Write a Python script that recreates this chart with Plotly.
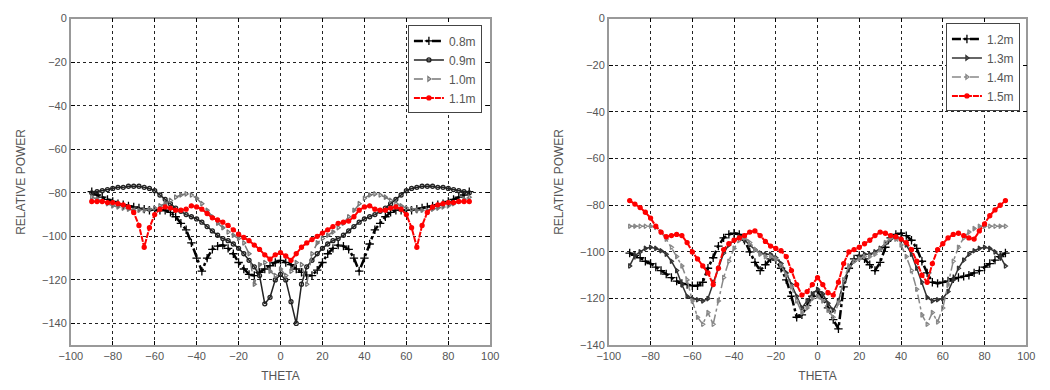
import numpy as np
import plotly.graph_objects as go

# Sample angles (degrees) shared by every measured curve
theta = np.linspace(-90, 90, 73).tolist()

# Left panel: relative power (dB) at antenna heights 0.8 m - 1.1 m
p_08 = [-79.5, -81, -82, -83, -84, -85, -85.5, -86, -86.5, -87, -87.5, -88, -88, -88, -88, -89, -91, -94, -97,
        -103, -110, -116, -110, -106, -104.5, -104, -105.5, -108, -112, -115, -117.5, -118, -116.5, -115, -113.5,
        -112, -111,
        -112, -113, -115, -116.5, -118, -118, -115.5, -112, -108, -105.5, -104, -104.5, -106, -110, -116, -110,
        -103.5, -97, -94, -91, -89, -88, -88, -88, -88, -87.5, -87, -86.5, -86, -85.5, -85, -84, -83, -82, -81, -79.5]
p_09 = [-80, -79.5, -79, -78.5, -78, -77.5, -77.5, -77, -77, -77, -77.5, -78, -79, -81, -83, -85, -87, -88.5, -90,
        -91, -92, -93.5, -95.5, -97.5, -99.5, -101, -102, -103.5, -105.5, -108, -111, -114, -118, -131, -128, -120,
        -117.5,
        -120, -130, -140, -122, -114, -111, -108, -105.5, -103.5, -102, -101, -99.5, -97.5, -95.5, -93.5, -92, -91,
        -90, -88.5, -87, -85, -83, -81, -79, -78, -77.5, -77, -77, -77, -77.5, -77.5, -78, -78.5, -79, -79.5, -80]
p_10 = [-82, -83, -84, -85, -86, -86.5, -87, -87.5, -88, -88, -88, -87.5, -87, -86, -85, -83.5, -82, -81, -80.5,
        -81, -82.5, -85, -88, -91, -94, -96, -98, -99.5, -101, -103, -108, -122, -113, -112, -116, -118, -115,
        -118, -116, -112, -113, -122, -108, -103, -101, -99.5, -98, -96, -94, -91, -88, -85, -82.5, -81, -80.5, -81,
        -82, -83.5, -85, -86, -87, -87.5, -88, -88, -88, -87.5, -87, -86.5, -86, -85, -84, -83, -82]
p_11 = [-84, -84, -84, -84.5, -84.5, -85, -85.5, -86.5, -89, -95, -105, -96, -90, -87.5, -86.5, -87, -88, -88, -87.5,
        -86, -86.5, -87.5, -89.5, -91.5, -92.5, -93.5, -95, -97, -99, -100.5, -102, -104, -106, -108.5, -110.5,
        -108.5, -107.5,
        -109, -111, -108, -105, -103, -101.5, -100, -98.5, -97, -95.5, -94, -93.5, -93, -91, -88, -86.5, -86, -87.5,
        -88, -88, -87, -86.5, -87.5, -90, -96, -105, -95, -89, -86.5, -85.5, -85, -84.5, -84.5, -84, -84, -84]

# Right panel: relative power (dB) at antenna heights 1.2 m - 1.5 m
p_12 = [-100.5, -101.5, -102.5, -104, -105, -106.5, -108, -109.5, -111, -112.5, -113.5, -114, -114.5, -114.5, -113,
        -107, -102.5, -97.5, -94, -92.5, -92, -92.5, -95, -100, -104.5, -108, -105.5, -103, -103.5, -107, -112, -119,
        -128, -127, -123, -119, -117,
        -120, -124, -129, -133, -115, -107, -103, -101.5, -103, -105.5, -108, -104.5, -98, -94, -92.5, -92, -93, -95,
        -98.5, -104, -109, -113, -113.5, -113, -112.5, -111.5, -111, -110.5, -110, -109, -108, -106.5, -105, -103.5,
        -102, -100.5]
p_13 = [-106, -101.5, -100, -98.5, -98, -98.5, -99.5, -101, -104, -108, -114, -119, -120, -120.5, -121, -120, -113,
        -107, -100.5, -97, -95, -93.5, -95, -97, -99, -100.5, -101, -101, -102.5, -105, -109, -114, -119, -124, -121,
        -118, -116,
        -118, -122, -125, -121, -113, -107, -104, -102, -101, -101, -100, -98.5, -96.5, -94.5, -93.5, -94.5, -97,
        -101, -107, -113, -119.5, -121, -120.5, -120, -117, -112, -107, -103.5, -101, -99.5, -98.5, -98, -98.5, -100,
        -102, -106]
p_14 = [-89, -89, -89, -89, -89, -89.5, -91.5, -94.5, -98, -102, -106, -112, -121, -128, -131, -126, -131, -121,
        -111, -104, -98.5, -95, -94, -96, -99, -101, -102, -102, -103, -106, -110, -115, -121, -126, -124, -120, -119,
        -121, -125, -128, -122, -112, -106, -104, -103, -102, -102, -101, -99, -96, -94, -94.5, -97, -102, -108, -116,
        -127, -131, -126, -130, -124, -114, -104, -98, -94, -91.5, -90, -89, -89, -89, -89, -89, -89]
p_15 = [-78, -79.5, -81, -83, -85.5, -89, -91.5, -93.5, -93, -92.5, -93, -96, -100, -103, -106, -109, -114, -107, -99,
        -96.5, -95, -94, -93, -91.5, -91, -93, -95.5, -97.5, -98.5, -99.5, -102, -108, -114, -118.5, -117, -114, -111,
        -114, -117.5, -118.5, -113, -105, -100, -99, -98, -96.5, -95, -93, -91.5, -92, -93, -93.5, -94.5, -96, -99,
        -104, -110, -113, -105, -99, -96.5, -94, -92.5, -92, -93, -94, -94.5, -91, -88, -84.5, -82, -80, -78]

left_labels = ["0.8m", "0.9m", "1.0m", "1.1m"]
right_labels = ["1.2m", "1.3m", "1.4m", "1.5m"]

FONT = "Arial, Liberation Sans, sans-serif"
TXT = "#555555"

# (values, label, colour, line width, dash, marker symbol, marker size)
left_series = [
    (p_08, left_labels[0], "#000000", 2.5, "dashdot", "cross-thin", 6),
    (p_09, left_labels[1], "#222222", 1.5, "solid", "circle-open", 4),
    (p_10, left_labels[2], "#777777", 1.5, "dash", "triangle-right-open", 4),
    (p_11, left_labels[3], "#ff0000", 2, "6px,1px", "circle", 4),
]
right_series = [
    (p_12, right_labels[0], "#000000", 2.5, "dashdot", "cross-thin", 6),
    (p_13, right_labels[1], "#333333", 1.5, "solid", "triangle-right-open", 4),
    (p_14, right_labels[2], "#888888", 1.5, "dashdot", "triangle-right-open", 4),
    (p_15, right_labels[3], "#ff0000", 2, "6px,1px", "circle", 4),
]

fig = go.Figure()


def add_series(series, xa, ya, legend):
    for vals, name, col, lw, dash, sym, size in series:
        fig.add_trace(go.Scatter(
            x=theta, y=vals, name=name, xaxis=xa, yaxis=ya, legend=legend,
            mode="lines+markers",
            line=dict(color=col, width=lw, dash=dash),
            marker=dict(symbol=sym, size=size, color=col,
                        line=dict(color=col, width=1.3)),
        ))


add_series(left_series, "x", "y", "legend")
add_series(right_series, "x2", "y2", "legend2")

W, H = 1050, 390


def xaxis_style(domain, anchor):
    return dict(
        domain=domain, anchor=anchor, range=[-100, 100], dtick=20, tick0=-100,
        showgrid=True, gridcolor="#222222", griddash="dot", gridwidth=1,
        zeroline=False, showline=True, linecolor="#999999", linewidth=1.5, mirror="ticks",
        ticks="inside", ticklen=4, tickcolor="#000000",
        tickfont=dict(family=FONT, size=11, color=TXT),
        title=dict(text="THETA", font=dict(family=FONT, size=12, color=TXT), standoff=10),
    )


def yaxis_style(rng, anchor):
    return dict(
        domain=[1 - 350 / H, 1 - 13 / H], anchor=anchor, range=rng, dtick=20,
        showgrid=True, gridcolor="#222222", griddash="dot", gridwidth=1,
        zeroline=False, showline=True, linecolor="#999999", linewidth=1.5, mirror="ticks",
        ticks="inside", ticklen=4, tickcolor="#000000",
        tickfont=dict(family=FONT, size=11, color=TXT),
        title=dict(text="RELATIVE POWER", font=dict(family=FONT, size=12, color=TXT), standoff=14),
    )


def legend_style(x, y):
    return dict(
        x=x, y=y, xanchor="left", yanchor="top", xref="paper", yref="paper",
        bgcolor="#ffffff", bordercolor="#444444", borderwidth=1,
        font=dict(family=FONT, size=12, color=TXT),
        tracegroupgap=0, itemwidth=30,
    )


fig.update_layout(
    width=W, height=H,
    margin=dict(l=0, r=0, t=0, b=0),
    paper_bgcolor="#ffffff", plot_bgcolor="#ffffff",
    xaxis=xaxis_style([60 / W, 488 / W], "y"),
    yaxis=yaxis_style([-150, 0], "x"),
    xaxis2=xaxis_style([609 / W, 1035 / W], "y2"),
    yaxis2=yaxis_style([-140, 0], "x2"),
    legend=legend_style(404 / W, 1 - 20 / H),
    legend2=legend_style(953 / W, 1 - 18 / H),
    showlegend=True,
)

fig.write_html("out.html")
